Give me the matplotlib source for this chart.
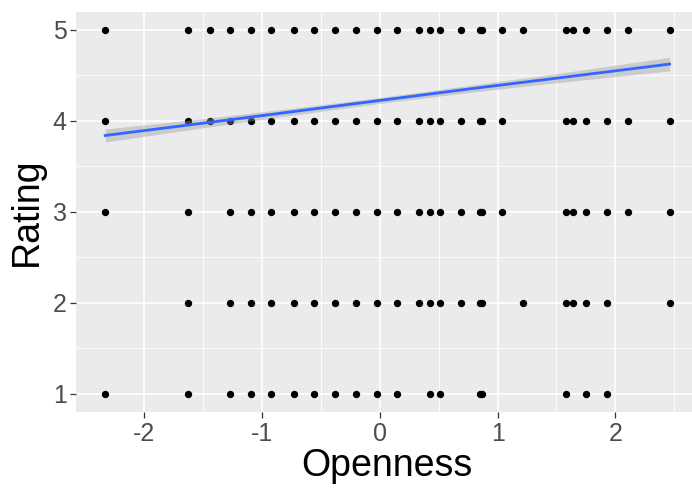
#!/usr/bin/env python3
"""Scatter of rating vs openness with a linear fit (ggplot look)."""

import numpy as np
import matplotlib.pyplot as plt

# distinct openness values (standardised)
openness_levels = [-2.33, -1.63, -1.44, -1.27, -1.09, -0.92, -0.73, -0.56, -0.38,
                   -0.20, -0.02, 0.15, 0.33, 0.43, 0.51, 0.69, 0.85, 0.87, 1.04,
                   1.22, 1.58, 1.64, 1.75, 1.93, 2.11, 2.46]

# openness values present at each rating
rating5 = openness_levels
rating4 = [v for v in openness_levels if v != 1.22]
rating3 = [v for v in openness_levels if v not in (-1.44, 1.22)]
rating2 = [v for v in openness_levels if v not in (-2.33, -1.44, 1.04, 2.11)]
rating1 = [-2.33, -1.63, -1.27, -1.09, -0.92, -0.73, -0.56, -0.38, -0.20, -0.02,
           0.15, 0.43, 0.51, 0.85, 0.87, 1.58, 1.75, 1.93]

# fitted line and its confidence band
fit_x = [-2.33, -1.5, -0.75, 0.0, 0.75, 1.5, 2.46]
fit_y = [3.84, 3.975, 4.10, 4.225, 4.35, 4.47, 4.625]
fit_half = [0.072, 0.05, 0.038, 0.033, 0.038, 0.05, 0.075]

plt.rcParams["font.family"] = ["Liberation Sans", "DejaVu Sans"]
plt.rcParams["axes.unicode_minus"] = False

fig = plt.figure(figsize=(6.92, 4.91), dpi=100)
ax = fig.add_axes([0.1105, 0.161, 0.898, 0.815])
ax.set_facecolor("#EBEBEB")

for rating, xs in zip([5, 4, 3, 2, 1], [rating5, rating4, rating3, rating2, rating1]):
    ax.scatter(xs, [rating] * len(xs), s=28, color="black", linewidths=0, zorder=3)

fx = np.array(fit_x)
fy = np.array(fit_y)
fh = np.array(fit_half)
ax.fill_between(fx, fy - fh, fy + fh, color="#999999", alpha=0.4, linewidth=0, zorder=4)
ax.plot(fx, fy, color="#3366FF", linewidth=2.0, zorder=5)

ax.set_xlim(-2.574, 2.70)
ax.set_ylim(0.8, 5.2)
ax.set_xticks([-2, -1, 0, 1, 2])
ax.set_yticks([1, 2, 3, 4, 5])
ax.set_xticks([-1.5, -0.5, 0.5, 1.5, 2.5], minor=True)
ax.set_yticks([1.5, 2.5, 3.5, 4.5], minor=True)
ax.grid(which="major", color="white", linewidth=1.2)
ax.grid(which="minor", color="white", linewidth=0.6)
ax.set_axisbelow(True)
for spine in ax.spines.values():
    spine.set_visible(False)

ax.tick_params(which="major", length=4, width=0.9, color="#333333",
               labelsize=18, labelcolor="#4D4D4D", pad=3)
ax.tick_params(which="minor", length=0)

ax.set_xlabel("Openness", fontsize=27, labelpad=2)
ax.set_ylabel("Rating", fontsize=27, labelpad=6)

fig.savefig("out.png", dpi=100)
